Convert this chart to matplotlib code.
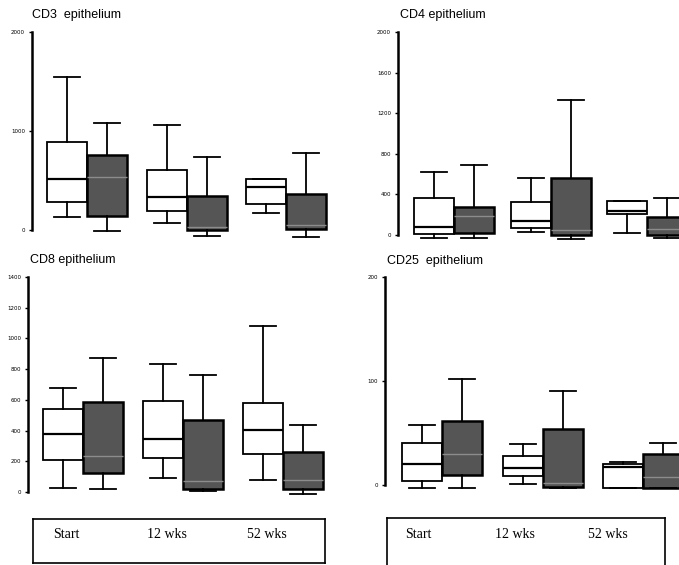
import matplotlib
matplotlib.use("Agg")
import matplotlib.pyplot as plt

W, H = 679, 565

timepoints = ["Start", "12 wks", "52 wks"]

# [whislo, q1, med, q3, whishi] for Start, 12 wks, 52 wks
cd3_open = [[131, 283, 515, 889, 1545], [71, 192, 333, 606, 1060], [172, 263, 434, 515, 515]]
cd3_grey = [[-10, 141, 540, 758, 1080], [-60, 5, 30, 343, 737], [-70, 10, 50, 364, 778]]

cd4_open = [[-26, 7, 82, 367, 617], [26, 72, 141, 328, 564], [20, 207, 236, 335, 335]]
cd4_grey = [[-26, 16, 187, 272, 689], [-39, 0, 49, 564, 1328], [-30, 0, 59, 177, 365]]

cd8_open = [[26, 206, 378, 543, 679], [91, 224, 347, 592, 835], [76, 245, 406, 582, 1079]]
cd8_grey = [[20, 124, 234, 588, 872], [4, 17, 74, 471, 764], [-11, 22, 76, 260, 434]]

cd25_open = [[-3, 4, 20, 40, 58], [1, 9, 16, 28, 39], [-3, -3, 17, 20, 22]]
cd25_grey = [[-3, 10, 30, 62, 102], [-3, -2, 2, 54, 90], [-3, -3, 8, 30, 40]]

cd3_ticks = [0, 1000, 2000]
cd4_ticks = [0, 400, 800, 1200, 1600, 2000]
cd8_ticks = [0, 200, 400, 600, 800, 1000, 1200, 1400]
cd25_ticks = [0, 100, 200]

fig = plt.figure(figsize=(W / 100, H / 100), dpi=100)
fig.patch.set_facecolor("white")


def to_stats(rows):
    return [dict(whislo=r[0], q1=r[1], med=r[2], q3=r[3], whishi=r[4]) for r in rows]


def panel(axis_x, zero_y, top_y, top_val, spacing, offset, right_x, ticks, open_rows, grey_rows, title, title_xy):
    below, above = 14, 4
    u = top_val / (zero_y - top_y)
    ax = fig.add_axes([axis_x / W, 1 - (zero_y + below) / H,
                       (right_x - axis_x) / W, (zero_y + below - top_y + above) / H])
    ax.set_ylim(-below * u, top_val + above * u)
    x0 = -offset / spacing
    ax.set_xlim(x0, x0 + (right_x - axis_x) / spacing)
    bw = 40 / spacing
    cw = 26 / spacing
    pos = range(len(open_rows))
    line = dict(color="black", linewidth=1.3)
    ax.bxp(to_stats(open_rows), positions=[p - bw / 2 for p in pos], widths=bw, capwidths=cw,
           showfliers=False, patch_artist=True,
           boxprops=dict(facecolor="white", edgecolor="black", linewidth=1.3),
           medianprops=dict(color="black", linewidth=1.6),
           whiskerprops=line, capprops=line)
    ax.bxp(to_stats(grey_rows), positions=[p + bw / 2 for p in pos], widths=bw, capwidths=cw,
           showfliers=False, patch_artist=True,
           boxprops=dict(facecolor="#555555", edgecolor="black", linewidth=1.8),
           medianprops=dict(color="#8c8c8c", linewidth=1.0),
           whiskerprops=line, capprops=line)
    for s in ["top", "right", "bottom"]:
        ax.spines[s].set_visible(False)
    ax.spines["left"].set_linewidth(1.8)
    ax.spines["left"].set_bounds(0, top_val)
    ax.set_xticks([])
    ax.set_yticks(ticks)
    ax.set_yticklabels([str(t) for t in ticks])
    ax.tick_params(axis="y", length=2, width=1, pad=3, labelsize=4)
    ax.patch.set_alpha(0)
    fig.text(title_xy[0] / W, 1 - title_xy[1] / H, title, fontsize=9,
             family="Liberation Sans", ha="left", va="center")
    return ax


panel(32, 230, 32, 2000, 99.5, 55, 335, cd3_ticks, cd3_open, cd3_grey, "CD3  epithelium", (32, 15))
panel(398, 235, 32, 2000, 96.5, 56, 720, cd4_ticks, cd4_open, cd4_grey, "CD4 epithelium", (400, 15))
panel(28, 492, 277, 1400, 100, 55, 335, cd8_ticks, cd8_open, cd8_grey, "CD8 epithelium", (30, 260))
panel(385, 485, 277, 200, 100.5, 57, 720, cd25_ticks, cd25_open, cd25_grey, "CD25  epithelium", (387, 261))

# time point label boxes
label_boxes = [((33, 519, 325, 563), [66, 167, 267]), ((387, 518, 665, 580), [418, 515, 608])]
for (l, t, r, b), xs in label_boxes:
    bx = fig.add_axes([l / W, 1 - b / H, (r - l) / W, (b - t) / H])
    bx.set_xticks([])
    bx.set_yticks([])
    for s in bx.spines.values():
        s.set_linewidth(1.2)
    for x, lab in zip(xs, timepoints):
        bx.text((x - l) / (r - l), 1 - (535 - t) / (b - t), lab, transform=bx.transAxes,
                family="Liberation Serif", fontsize=10, ha="center", va="center")

fig.savefig("out.png", dpi=100)
